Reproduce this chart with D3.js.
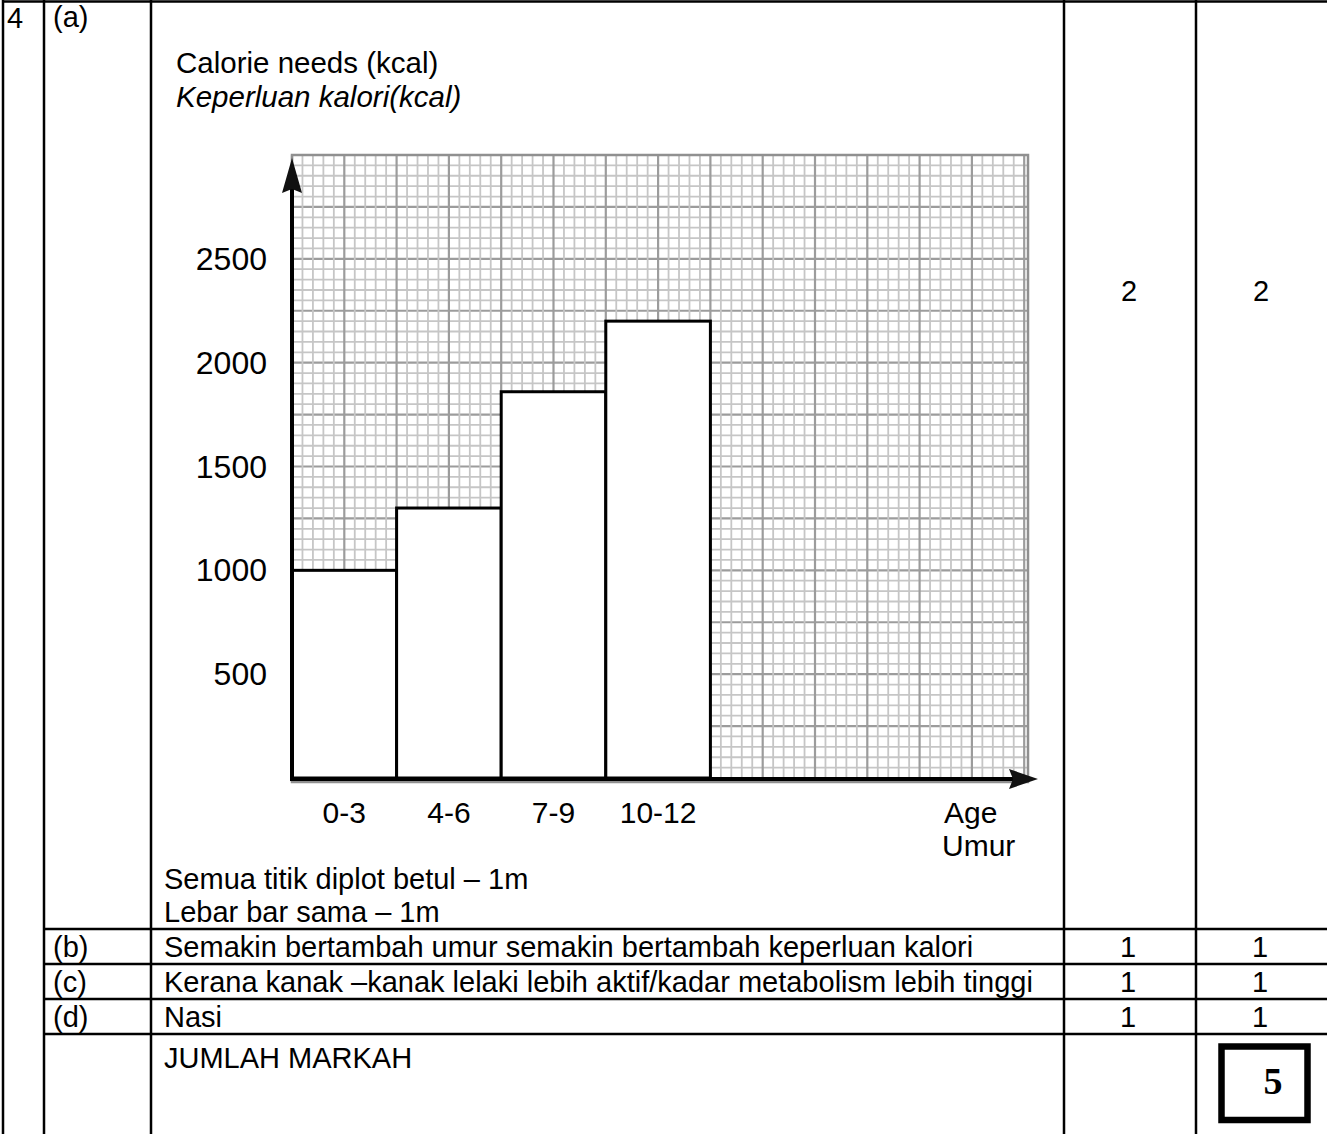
<!DOCTYPE html>
<html>
<head>
<meta charset="utf-8">
<script src="https://cdn.jsdelivr.net/npm/d3@7"></script>
<style>
  html, body { margin: 0; padding: 0; background: #fff; }
  svg { display: block; }
  text { font-family: "Liberation Sans", Arial, sans-serif; fill: #000; }
</style>
</head>
<body>
<script>
// ---- data ----
const categories = ["0-3", "4-6", "7-9", "10-12"];
const calories = [1000, 1300, 1860, 2200];
const yTicks = [500, 1000, 1500, 2000, 2500];
const yTitle = ["Calorie needs (kcal)", "Keperluan kalori(kcal)"];
const xTitle = ["Age", "Umur"];
const notesA = ["Semua titik diplot betul – 1m", "Lebar bar sama – 1m"];
const marksA = ["2", "2"];
const rowLabels = ["(b)", "(c)", "(d)"];
const rowAnswers = [
  "Semakin bertambah umur semakin bertambah keperluan kalori",
  "Kerana kanak –kanak lelaki lebih aktif/kadar metabolism lebih tinggi",
  "Nasi"
];
const rowMarks1 = ["1", "1", "1"];
const rowMarks2 = ["1", "1", "1"];
const totalLabel = "JUMLAH MARKAH";
const totalMarks = "5";

const W = 1327, H = 1134;
const svg = d3.select("body").append("svg").attr("width", W).attr("height", H);

// ---- scales ----
const y = d3.scaleLinear().domain([0, 3000]).range([778, 155]);
const xMajor = d3.scaleLinear().domain([0, 1]).range([292, 344.3]); // one major grid cell per unit
const x = d3.scaleBand().domain(categories).range([xMajor(0), xMajor(8)]).paddingInner(0).paddingOuter(0);
const gridRight = 1028;

// ---- graph paper ----
const grid = svg.append("g");
const minorY = d3.range(0, 3000 + 1, 50);
const minorXcount = Math.floor((gridRight - xMajor(0)) / ((xMajor(1) - xMajor(0)) / 5));
const minorX = d3.range(0, minorXcount + 1).map(i => xMajor(i / 5));
grid.selectAll("line.hy").data(minorY).join("line")
  .attr("x1", xMajor(0)).attr("x2", gridRight)
  .attr("y1", d => y(d)).attr("y2", d => y(d))
  .attr("stroke", d => d % 250 === 0 ? "#9c9c9c" : "#c6c6c6")
  .attr("stroke-width", d => d % 250 === 0 ? 2.2 : 1.8);
grid.selectAll("line.vx").data(minorX).join("line")
  .attr("x1", d => d).attr("x2", d => d)
  .attr("y1", y(3000)).attr("y2", y(0) + 4)
  .attr("stroke", (d, i) => i % 5 === 0 ? "#9c9c9c" : "#c6c6c6")
  .attr("stroke-width", (d, i) => i % 5 === 0 ? 2.2 : 1.8);
grid.append("rect")
  .attr("x", xMajor(0)).attr("y", y(3000))
  .attr("width", gridRight - xMajor(0)).attr("height", y(0) + 4 - y(3000))
  .attr("fill", "none").attr("stroke", "#909090").attr("stroke-width", 2.5);

// ---- bars ----
svg.append("g").selectAll("rect").data(categories).join("rect")
  .attr("x", d => x(d))
  .attr("y", (d, i) => y(calories[i]))
  .attr("width", x.bandwidth())
  .attr("height", (d, i) => y(0) - y(calories[i]))
  .attr("fill", "#fff").attr("stroke", "#000").attr("stroke-width", 3);

// ---- axes with arrows ----
const ax = svg.append("g");
ax.append("line").attr("x1", xMajor(0)).attr("x2", xMajor(0))
  .attr("y1", y(0) + 2).attr("y2", 185).attr("stroke", "#000").attr("stroke-width", 4);
ax.append("path").attr("d", `M${xMajor(0)},158 L${xMajor(0) + 10},193 L${xMajor(0)},189 L${xMajor(0) - 10},193 Z`)
  .attr("fill", "#111");
ax.append("line").attr("x1", xMajor(0) - 2).attr("x2", 1015)
  .attr("y1", y(0) + 1).attr("y2", y(0) + 1).attr("stroke", "#000").attr("stroke-width", 4);
ax.append("path").attr("d", `M1038,${y(0) + 1} L1009,${y(0) - 9} L1013,${y(0) + 1} L1009,${y(0) + 11} Z`)
  .attr("fill", "#111");

// y tick labels
svg.append("g").selectAll("text").data(yTicks).join("text")
  .attr("x", 267).attr("y", d => y(d) + 11)
  .attr("text-anchor", "end").attr("font-size", 32)
  .text(d => d);

// x category labels
svg.append("g").selectAll("text").data(categories).join("text")
  .attr("x", d => x(d) + x.bandwidth() / 2).attr("y", 823)
  .attr("text-anchor", "middle").attr("font-size", 30)
  .text(d => d);

// axis titles
svg.append("text").attr("x", 176).attr("y", 73).attr("font-size", 29.5).text(yTitle[0]);
svg.append("text").attr("x", 176).attr("y", 107).attr("font-size", 29.5).attr("font-style", "italic").text(yTitle[1]);
svg.append("text").attr("x", 944).attr("y", 823).attr("font-size", 30).text(xTitle[0]);
svg.append("text").attr("x", 942).attr("y", 856).attr("font-size", 30).text(xTitle[1]);

// notes
svg.append("g").selectAll("text").data(notesA).join("text")
  .attr("x", 164).attr("y", (d, i) => 889 + i * 33).attr("font-size", 29).text(d => d);

// ---- table ----
const tbl = svg.append("g").attr("stroke", "#000").attr("stroke-width", 2.5);
tbl.append("line").attr("x1", 2).attr("x2", W).attr("y1", 1.5).attr("y2", 1.5);
[3, 44, 151, 1064, 1196].forEach(v => {
  tbl.append("line").attr("x1", v).attr("x2", v).attr("y1", 0).attr("y2", H);
});
[929, 964, 999, 1034].forEach(v => {
  tbl.append("line").attr("x1", 44).attr("x2", W).attr("y1", v).attr("y2", v);
});

const fs = 29;
svg.append("text").attr("x", 7).attr("y", 28).attr("font-size", fs).text("4");
svg.append("text").attr("x", 53).attr("y", 27).attr("font-size", fs).text("(a)");
svg.append("text").attr("x", 1129).attr("y", 301).attr("text-anchor", "middle").attr("font-size", fs).text(marksA[0]);
svg.append("text").attr("x", 1261).attr("y", 301).attr("text-anchor", "middle").attr("font-size", fs).text(marksA[1]);

const rowBase = [957, 992, 1027];
svg.append("g").selectAll("text").data(rowLabels).join("text")
  .attr("x", 53).attr("y", (d, i) => rowBase[i]).attr("font-size", fs).text(d => d);
svg.append("g").selectAll("text").data(rowAnswers).join("text")
  .attr("x", 164).attr("y", (d, i) => rowBase[i]).attr("font-size", fs).text(d => d);
svg.append("g").selectAll("text").data(rowMarks1).join("text")
  .attr("x", 1128).attr("y", (d, i) => rowBase[i]).attr("text-anchor", "middle").attr("font-size", fs).text(d => d);
svg.append("g").selectAll("text").data(rowMarks2).join("text")
  .attr("x", 1260).attr("y", (d, i) => rowBase[i]).attr("text-anchor", "middle").attr("font-size", fs).text(d => d);

svg.append("text").attr("x", 164).attr("y", 1068).attr("font-size", fs).text(totalLabel);

svg.append("rect").attr("x", 1221.5).attr("y", 1046.5).attr("width", 86).attr("height", 73.5)
  .attr("fill", "none").attr("stroke", "#000").attr("stroke-width", 6.5);
svg.append("text").attr("x", 1273).attr("y", 1094).attr("text-anchor", "middle")
  .attr("font-size", 38).attr("font-weight", "bold")
  .style("font-family", '"Liberation Serif", "Times New Roman", serif')
  .text(totalMarks);
</script>
</body>
</html>
